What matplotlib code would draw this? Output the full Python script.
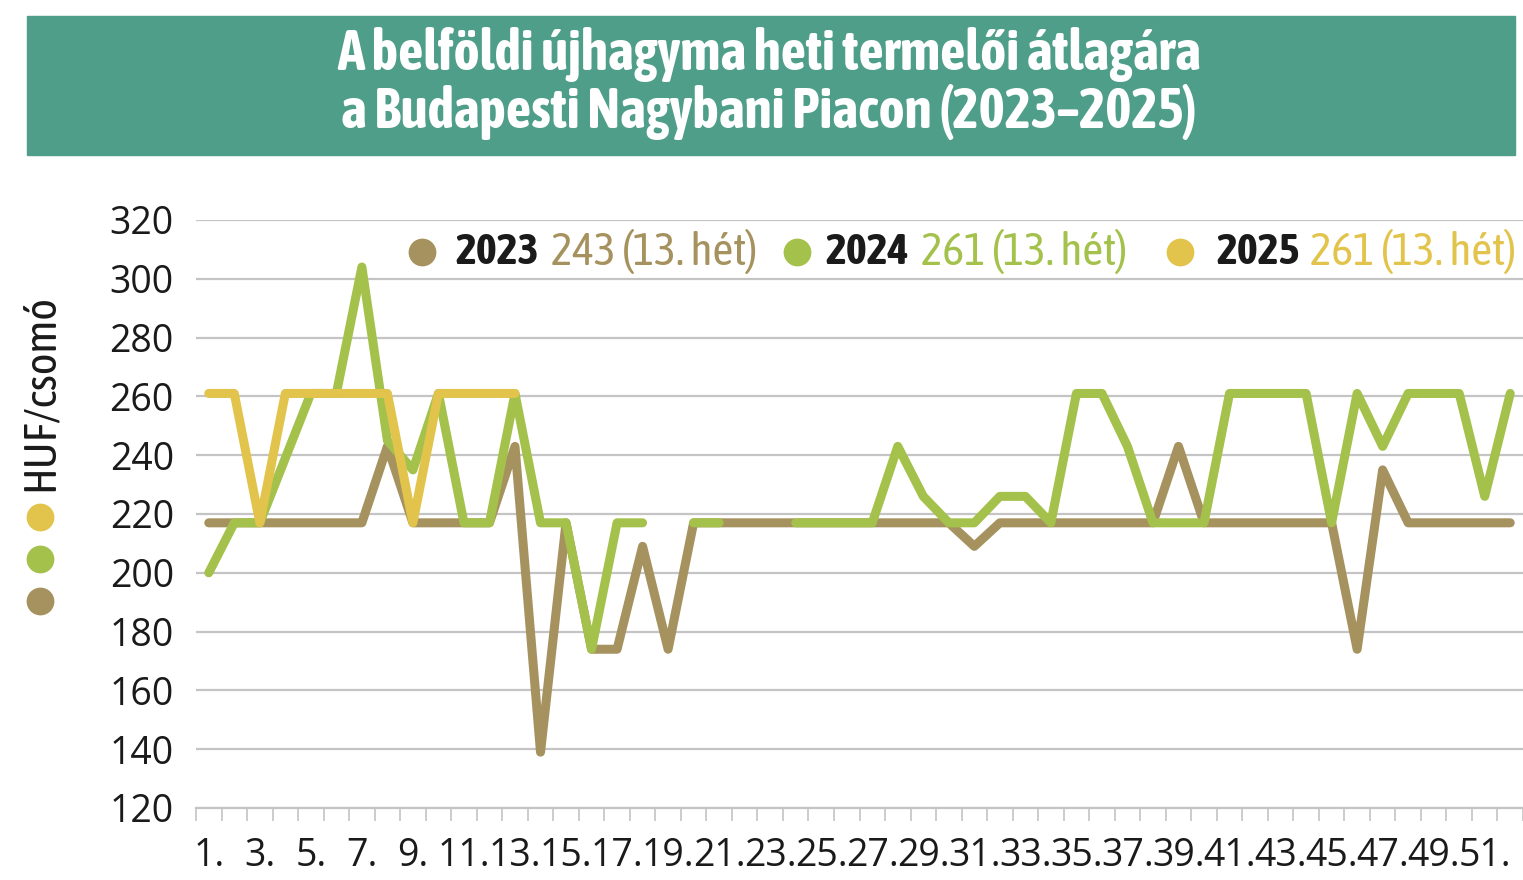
import numpy as np
import matplotlib
matplotlib.use("Agg")
import matplotlib.pyplot as plt
from matplotlib.patches import Rectangle

# Weekly producer prices (HUF/bunch), weeks 1..52
weeks = list(range(1, 53))
nan = np.nan

price_2023 = [217, 217, 217, 217, 217, 217, 217, 243, 217, 217,
              217, 217, 243, 139, 217, 174, 174, 209, 174, 217,
              217, 217, 217, 217, 217, 217, 217, 217, 217, 217,
              209, 217, 217, 217, 217, 217, 217, 217, 243, 217,
              217, 217, 217, 217, 217, 174, 235, 217, 217, 217,
              217, 217]

price_2024 = [200, 217, 217, 239, 261, 261, 304, 245, 235, 261,
              217, 217, 261, 217, 217, 174, 217, 217, nan, 217,
              217, nan, nan, 217, 217, 217, 217, 243, 226, 217,
              217, 226, 226, 217, 261, 261, 243, 217, 217, 217,
              261, 261, 261, 261, 217, 261, 243, 261, 261, 261,
              226, 261]

price_2025 = [261, 261, 217, 261, 261, 261, 261, 261, 217, 261,
              261, 261, 261] + [nan] * 39

years = ["2023", "2024", "2025"]
legend_values = ["243 (13. hét)", "261 (13. hét)", "261 (13. hét)"]
tick_weeks = list(range(1, 52, 2))
tick_labels = [f"{w}." for w in tick_weeks]

c_2023 = "#A6925E"
c_2024 = "#A4C14B"
c_2025 = "#E2C44C"
colors = [c_2023, c_2024, c_2025]
band = "#4E9E8A"

plt.rcParams["font.family"] = ["Open Sans", "Source Sans 3", "DejaVu Sans"]
narrow = ["Asap Condensed", "Liberation Sans Narrow", "Archivo Narrow", "DejaVu Sans"]

W, H = 1523, 880
fig = plt.figure(figsize=(W / 100, H / 100), dpi=100)

# Main plot area
ax = fig.add_axes([196 / W, 1 - 808 / H, (W - 196) / W, (808 - 220) / H])
for y, c in zip([price_2023, price_2024, price_2025], colors):
    ax.plot(weeks, y, color=c, lw=6.5, solid_capstyle="round",
            solid_joinstyle="round", zorder=3)

ax.set_xlim(0.5, 52.3)
ax.set_ylim(120, 320)
ax.set_yticks(range(120, 321, 20))
ax.yaxis.grid(True, color="#C4C4C4", lw=1.6, zorder=0)
ax.set_axisbelow(True)
for s in ["top", "right", "left"]:
    ax.spines[s].set_visible(False)
ax.spines["bottom"].set_color("#C4C4C4")
ax.spines["bottom"].set_linewidth(1.6)

ax.set_xticks(tick_weeks)
ax.set_xticklabels(tick_labels)
ax.set_xticks(np.arange(0.5, 53, 1), minor=True)
ax.tick_params(axis="x", which="major", length=0, pad=21,
               labelsize=27, labelcolor="#1a1a1a")
ax.tick_params(axis="x", which="minor", length=9, width=1.2, color="#C4C4C4")
ax.tick_params(axis="y", length=0, pad=16, labelsize=27, labelcolor="#1a1a1a")

# Overlay in pixel coordinates for title, legend, axis label
ov = fig.add_axes([0, 0, 1, 1], zorder=5)
ov.set_xlim(0, W)
ov.set_ylim(H, 0)
ov.axis("off")
ov.patch.set_alpha(0)

ov.add_patch(Rectangle((27, 16), 1488, 139, color=band, zorder=1))
ov.text(769, 55, "A belföldi újhagyma heti termelői átlagára", ha="center",
        va="center", color="white", fontsize=40, fontweight="bold",
        family=narrow)
ov.text(769, 112, "a Budapesti Nagybani Piacon (2023–2025)", ha="center",
        va="center", color="white", fontsize=40, fontweight="bold",
        family=narrow)

# Legend
dot_x = [422, 797, 1180]
year_x = [455, 825, 1216]
val_x = [551, 921, 1310]
for i in range(3):
    ov.plot(dot_x[i], 252, "o", ms=20, color=colors[i], mec="none")
    ov.text(year_x[i], 252, years[i], ha="left", va="center", fontsize=32,
            fontweight="bold", color="#1a1a1a", family=narrow)
    ov.text(val_x[i], 252, legend_values[i], ha="left", va="center",
            fontsize=33, color=colors[i], family=narrow)

# Y axis label with colour dots
ov.text(40, 393, "HUF/csomó", rotation=90, ha="center", va="center",
        fontsize=33, color="#1a1a1a", family=narrow)
for yy, c in zip([517, 559, 601], [c_2025, c_2024, c_2023]):
    ov.plot(40, yy, "o", ms=20, color=c, mec="none")

fig.savefig("out.png", dpi=100)
